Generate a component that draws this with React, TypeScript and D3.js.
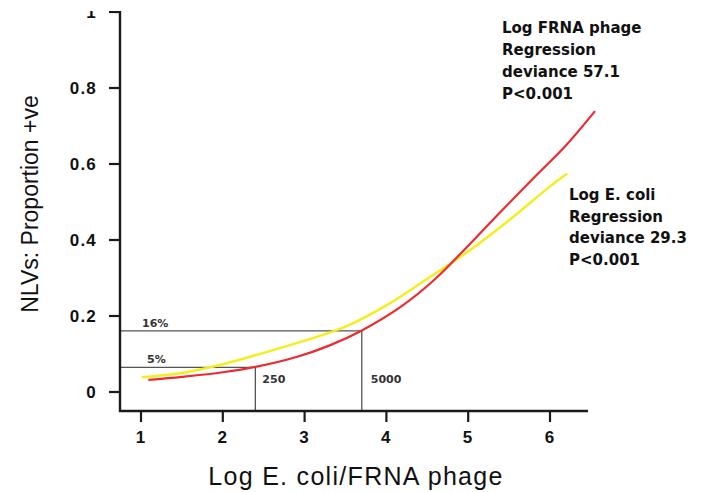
import React from "react";
import * as d3 from "d3";

const W = 703;
const H = 492;

// Fitted curve readings (x = log ratio, y = proportion positive)
const frnaX = [1.09, 1.5, 2.0, 2.4, 2.9, 3.3, 3.7, 4.2, 4.6, 5.0, 5.4, 5.8, 6.2, 6.55];
const frnaY = [0.032, 0.04, 0.052, 0.066, 0.092, 0.122, 0.162, 0.228, 0.298, 0.385, 0.475, 0.563, 0.65, 0.739];

const ecoliX = [1.01, 1.5, 2.0, 2.5, 3.0, 3.5, 4.0, 4.5, 5.0, 5.5, 6.0, 6.21];
const ecoliY = [0.039, 0.05, 0.073, 0.103, 0.135, 0.172, 0.228, 0.298, 0.37, 0.452, 0.541, 0.575];

const xTicks = [1, 2, 3, 4, 5, 6];
const yTicks = [0, 0.2, 0.4, 0.6, 0.8, 1];
const yTickLabels = ["0", "0.2", "0.4", "0.6", "0.8", "1"];

// Reference thresholds
const refLevels = [0.065, 0.161];
const refLevelLabels = ["5%", "16%"];
const refX = [Math.log10(250), Math.log10(5000)];
const refXLabels = ["250", "5000"];

const frnaNote = ["Log FRNA phage", "Regression", "deviance 57.1", "P<0.001"];
const ecoliNote = ["Log E. coli", "Regression", "deviance 29.3", "P<0.001"];

export default function App() {
  const x = d3.scaleLinear().domain([1, 6]).range([141, 550]);
  const y = d3.scaleLinear().domain([0, 1]).range([392, 12]);
  const axisY = 411;
  const axisX = 120;
  const axisXEnd = 588;

  const line = d3
    .line<[number, number]>()
    .x((d) => x(d[0]))
    .y((d) => y(d[1]))
    .curve(d3.curveCatmullRom.alpha(0.5));

  const frna = frnaX.map((v, i) => [v, frnaY[i]] as [number, number]);
  const ecoli = ecoliX.map((v, i) => [v, ecoliY[i]] as [number, number]);

  const tickFont = {
    fontFamily: "Liberation Sans, Arial, sans-serif",
    fontWeight: "bold" as const,
    fontSize: 17,
    letterSpacing: 1.2,
    fill: "#111",
  };
  const smallFont = {
    fontFamily: "DejaVu Sans, sans-serif",
    fontWeight: "bold" as const,
    fontSize: 11,
    fill: "#333",
  };
  const noteFont = {
    fontFamily: "DejaVu Sans, sans-serif",
    fontWeight: "bold" as const,
    fontSize: 15,
    fill: "#111",
  };

  return (
    <svg
      width={W}
      height={H}
      style={{ position: "absolute", left: 0, top: 0, background: "#fff" }}
    >
      <defs>
        <clipPath id="topclip" clipPathUnits="userSpaceOnUse">
          <rect x={0} y={11} width={W} height={H} />
        </clipPath>
      </defs>

      {/* reference lines */}
      {refLevels.map((lv, i) => (
        <g key={"ref" + i}>
          <line
            x1={axisX}
            x2={x(refX[i])}
            y1={y(lv)}
            y2={y(lv)}
            stroke="#555"
            strokeWidth={1.3}
          />
          <line
            x1={x(refX[i])}
            x2={x(refX[i])}
            y1={y(lv)}
            y2={axisY}
            stroke="#555"
            strokeWidth={1.3}
          />
          <text x={i === 0 ? 147 : 142} y={y(lv) - 4} {...smallFont}>
            {refLevelLabels[i]}
          </text>
          <text x={x(refX[i]) + (i === 0 ? 7 : 9)} y={383} {...smallFont}>
            {refXLabels[i]}
          </text>
        </g>
      ))}

      {/* curves */}
      <path d={line(ecoli) || ""} fill="none" stroke="#f4ee1c" strokeWidth={2.4} />
      <path d={line(frna) || ""} fill="none" stroke="#ee2a2e" strokeWidth={2.2} />

      {/* axes */}
      <line x1={axisX} x2={axisX} y1={11} y2={axisY + 1} stroke="#1a1a1a" strokeWidth={2.4} />
      <line x1={axisX - 1} x2={axisXEnd} y1={axisY} y2={axisY} stroke="#1a1a1a" strokeWidth={2.4} />
      {yTicks.map((t, i) => (
        <g key={"yt" + i} clipPath="url(#topclip)">
          <line x1={109} x2={axisX} y1={y(t)} y2={y(t)} stroke="#1a1a1a" strokeWidth={2.2} />
          <text x={97} y={y(t) + 6} textAnchor="end" {...tickFont}>
            {yTickLabels[i]}
          </text>
        </g>
      ))}
      {xTicks.map((t) => (
        <g key={"xt" + t}>
          <line x1={x(t)} x2={x(t)} y1={axisY} y2={axisY + 11} stroke="#1a1a1a" strokeWidth={2.2} />
          <text x={x(t)} y={443} textAnchor="middle" {...tickFont}>
            {t}
          </text>
        </g>
      ))}

      {/* axis titles */}
      <text
        x={356}
        y={485}
        textAnchor="middle"
        fontFamily="Liberation Sans, Arial, sans-serif"
        fontSize={25}
        letterSpacing={1.3}
        fill="#111"
      >
        Log E. coli/FRNA phage
      </text>
      <text
        transform="translate(38,204) rotate(-90)"
        textAnchor="middle"
        fontFamily="Liberation Sans, Arial, sans-serif"
        fontSize={23}
        fill="#111"
      >
        NLVs: Proportion +ve
      </text>

      {/* annotations */}
      {frnaNote.map((s, i) => (
        <text key={"fn" + i} x={502} y={33 + i * 22} {...noteFont}>
          {s}
        </text>
      ))}
      {ecoliNote.map((s, i) => (
        <text key={"en" + i} x={569} y={200 + i * 21.7} {...noteFont}>
          {s}
        </text>
      ))}
    </svg>
  );
}
